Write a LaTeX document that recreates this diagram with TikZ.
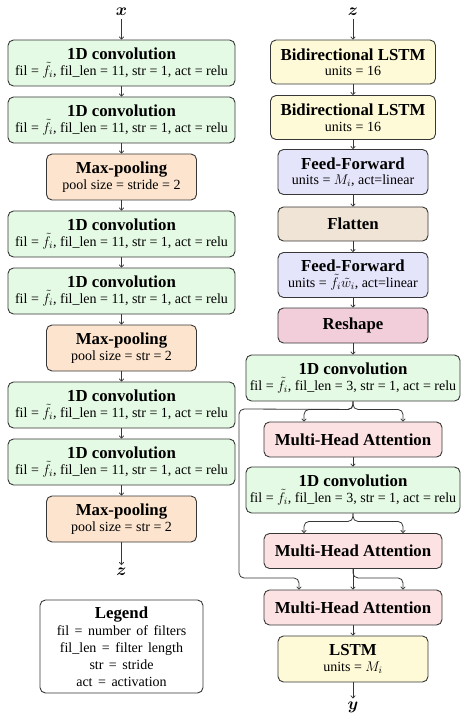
\documentclass[tikz,border=0pt]{standalone}
\usepackage{fix-cm}
\usepackage{amsmath,bm}
\usepackage{fontspec}
\setmainfont{Liberation Serif}
\usetikzlibrary{arrows.meta,calc}

\definecolor{edgec}{RGB}{55,55,55}
\definecolor{convc}{RGB}{228,250,228}
\definecolor{poolc}{RGB}{252,228,206}
\definecolor{lstmc}{RGB}{254,249,214}
\definecolor{ffc}{RGB}{228,228,250}
\definecolor{flatc}{RGB}{240,228,214}
\definecolor{reshc}{RGB}{242,206,218}
\definecolor{mhac}{RGB}{252,226,226}

\newcommand{\ttl}[1]{{\fontsize{16.8}{19}\selectfont\bfseries #1}}
\newcommand{\subl}[1]{{\fontsize{14}{15}\selectfont #1}}

\tikzset{
  blk/.style={draw=edgec, line width=0.9pt, rounded corners=5.5pt, align=center,
    inner sep=0pt, font=\fontsize{14}{15.5}\selectfont},
  convbox/.style={blk, fill=convc, minimum width=227pt, minimum height=46pt},
  convboxr/.style={blk, fill=convc, minimum width=214pt, minimum height=46pt},
  poolbox/.style={blk, fill=poolc, minimum width=150pt, minimum height=46pt},
  bilstm/.style={blk, fill=lstmc, minimum width=165pt, minimum height=44pt},
  lstmbox/.style={blk, fill=lstmc, minimum width=150pt, minimum height=46pt},
  ffbox/.style={blk, fill=ffc, minimum width=150pt, minimum height=45pt},
  flatbox/.style={blk, fill=flatc, minimum width=150pt, minimum height=34pt},
  reshbox/.style={blk, fill=reshc, minimum width=150pt, minimum height=35pt},
  mhabox/.style={blk, fill=mhac, minimum width=178pt, minimum height=35pt},
  legbox/.style={blk, fill=white, minimum width=163pt, minimum height=93pt,
    font=\fontsize{14}{17}\selectfont},
  varlab/.style={font=\fontsize{17}{19}\selectfont, inner sep=3pt},
  arr/.style={draw=edgec, line width=0.8pt, -{To[length=3pt,width=5pt]}},
}

\begin{document}
\begin{tikzpicture}[x=1pt,y=-1pt]
\useasboundingbox (0,0) rectangle (461,719);

% ---------------- encoder column ----------------
\node[varlab] (x) at (121.5,12) {$\bm{x}$};
\node[convbox] (l1) at (121.5,63)  {\ttl{1D convolution}\\\subl{fil = $\tilde{f}_i$, fil\_len = 11, str = 1, act = relu}};
\node[convbox] (l2) at (121.5,120) {\ttl{1D convolution}\\\subl{fil = $\tilde{f}_i$, fil\_len = 11, str = 1, act = relu}};
\node[poolbox] (l3) at (121.5,177) {\ttl{Max-pooling}\\\subl{pool size = stride = 2}};
\node[convbox] (l4) at (121.5,234) {\ttl{1D convolution}\\\subl{fil = $\tilde{f}_i$, fil\_len = 11, str = 1, act = relu}};
\node[convbox] (l5) at (121.5,291) {\ttl{1D convolution}\\\subl{fil = $\tilde{f}_i$, fil\_len = 11, str = 1, act = relu}};
\node[poolbox] (l6) at (121.5,348) {\ttl{Max-pooling}\\\subl{pool size = str = 2}};
\node[convbox] (l7) at (121.5,405) {\ttl{1D convolution}\\\subl{fil = $\tilde{f}_i$, fil\_len = 11, str = 1, act = relu}};
\node[convbox] (l8) at (121.5,462) {\ttl{1D convolution}\\\subl{fil = $\tilde{f}_i$, fil\_len = 11, str = 1, act = relu}};
\node[poolbox] (l9) at (121.5,519) {\ttl{Max-pooling}\\\subl{pool size = str = 2}};
\node[varlab] (zl) at (121.5,572) {$\bm{z}$};

\draw[arr] (x) -- (l1);
\draw[arr] (l1) -- (l2);
\draw[arr] (l2) -- (l3);
\draw[arr] (l3) -- (l4);
\draw[arr] (l4) -- (l5);
\draw[arr] (l5) -- (l6);
\draw[arr] (l6) -- (l7);
\draw[arr] (l7) -- (l8);
\draw[arr] (l8) -- (l9);
\draw[arr] (l9) -- (zl);

% legend
\node[legbox] (leg) at (121.5,646.5) {\ttl{Legend}\\
  {\spaceskip=5.5pt plus 1pt fil = number of filters}\\
  {\spaceskip=5.5pt plus 1pt fil\_len = filter length}\\
  {\spaceskip=5.5pt plus 1pt str = stride}\\
  {\spaceskip=5.5pt plus 1pt act = activation}};

% ---------------- decoder column ----------------
\node[varlab] (zr) at (353,12) {$\bm{z}$};
\node[bilstm] (r1) at (353,62)    {\ttl{Bidirectional LSTM}\\\subl{units = 16}};
\node[bilstm] (r2) at (353,117.5) {\ttl{Bidirectional LSTM}\\\subl{units = 16}};
\node[ffbox]  (r3) at (353,172)   {\ttl{Feed-Forward}\\\subl{units = $M_i$, act=linear}};
\node[flatbox](r4) at (353,224)   {\ttl{Flatten}};
\node[ffbox]  (r5) at (353,275)   {\ttl{Feed-Forward}\\\subl{units = $\tilde{f}_i\tilde{w}_i$, act=linear}};
\node[reshbox](r6) at (353,325.5) {\ttl{Reshape}};
\node[convboxr](r7) at (353,378)  {\ttl{1D convolution}\\\subl{fil = $\tilde{f}_i$, fil\_len = 3, str = 1, act = relu}};
\node[mhabox] (r8) at (353,439.5) {\ttl{Multi-Head Attention}};
\node[convboxr](r9) at (353,490)  {\ttl{1D convolution}\\\subl{fil = $\tilde{f}_i$, fil\_len = 3, str = 1, act = relu}};
\node[mhabox] (r10) at (353,551)  {\ttl{Multi-Head Attention}};
\node[mhabox] (r11) at (353,607.5){\ttl{Multi-Head Attention}};
\node[lstmbox](r12) at (353,659)  {\ttl{LSTM}\\\subl{units = $M_i$}};
\node[varlab] (yv) at (353,707) {$\bm{y}$};

\draw[arr] (zr) -- (r1);
\draw[arr] (r1) -- (r2);
\draw[arr] (r2) -- (r3);
\draw[arr] (r3) -- (r4);
\draw[arr] (r4) -- (r5);
\draw[arr] (r5) -- (r6);
\draw[arr] (r6) -- (r7);
\draw[arr] (r8) -- (r9);
\draw[arr] (r10) -- (r11);
\draw[arr] (r11) -- (r12);
\draw[arr] (r12) -- (yv);

% attention inputs
\coordinate (a1l) at ([xshift=-49pt]r8.north);
\coordinate (a1r) at ([xshift=50pt]r8.north);
\coordinate (a2l) at ([xshift=-49pt]r10.north);
\coordinate (a2r) at ([xshift=50pt]r10.north);
\coordinate (a3l) at ([xshift=-54pt]r11.north);
\coordinate (a3r) at ([xshift=50pt]r11.north);
\coordinate (skipt) at (239,409);
\coordinate (skipb) at (239,578);

\draw[arr, rounded corners=5pt] (r7.south) -- ++(0,8) -| (a1l);
\draw[arr, rounded corners=5pt] (r7.south) -- ++(0,8) -| (a1r);
\draw[arr, rounded corners=5pt] (r9.south) -- ++(0,8) -| (a2l);
\draw[arr, rounded corners=5pt] (r9.south) -- ++(0,8) -| (a2r);
\draw[arr, rounded corners=5pt] (r7.south) -- ++(0,8) -- (skipt) -- (skipb) -| (a3l);
\draw[arr, rounded corners=5pt] (r10.south) -- ++(0,9) -| (a3r);
\end{tikzpicture}
\end{document}
